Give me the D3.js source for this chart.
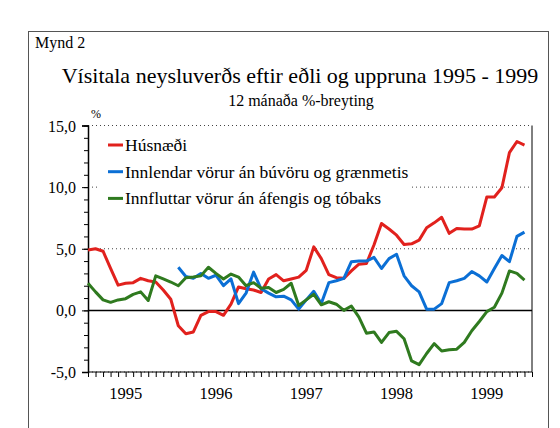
<!DOCTYPE html>
<html><head><meta charset="utf-8">
<script src="https://cdn.jsdelivr.net/npm/d3@7/dist/d3.min.js"></script>
<style>
svg, svg text { font-family: "Times New Roman", "Liberation Serif", serif; }
</style>
</head>
<body style="margin:0"><svg id="c" width="560" height="428" font-family="Times New Roman"></svg>
<script>
// Monthly index 0 = Jan 1995 ... 58 = Nov 1999
const yearLabels = ["1995","1996","1997","1998","1999"];
const yTickValues = [-5, 0, 5, 10, 15];
const seriesNames = ["Húsnæði","Innlendar vörur án búvöru og grænmetis","Innfluttar vörur án áfengis og tóbaks"];
const husnaedi = [4.9,5.0,4.8,3.4,2.05,2.2,2.25,2.6,2.4,2.3,1.65,0.9,
  -1.25,-1.9,-1.75,-0.4,-0.1,-0.1,-0.4,0.5,1.9,1.75,1.65,1.45,
  2.55,2.9,2.4,2.55,2.7,3.25,5.15,4.2,2.9,2.65,2.6,3.2,
  3.75,3.8,5.3,7.05,6.6,6.1,5.35,5.4,5.7,6.7,7.1,7.55,
  6.25,6.65,6.6,6.6,6.85,9.2,9.2,9.95,12.8,13.7,13.4];
const innlendar = [null,null,null,null,null,null,null,null,null,null,null,null,
  3.5,2.75,2.6,3.0,2.6,2.85,2.0,2.55,0.55,1.4,3.1,1.75,
  1.4,1.1,1.15,0.85,0.1,0.85,1.55,0.55,2.25,2.4,2.6,3.95,
  4.0,4.0,4.3,3.4,4.2,4.55,2.8,2.0,1.5,0.1,0.1,0.55,
  2.25,2.4,2.6,3.15,2.8,2.3,3.4,4.45,3.95,6.0,6.35];
const innfluttar = [2.2,1.5,0.85,0.65,0.85,0.95,1.3,1.5,0.8,2.8,2.55,2.3,
  2.0,2.65,2.7,2.8,3.5,3.0,2.55,2.95,2.7,2.0,2.25,1.8,
  1.85,1.45,1.7,2.2,0.4,0.85,1.3,0.45,0.7,0.5,0.0,0.35,
  -0.55,-1.85,-1.75,-2.6,-1.8,-1.7,-2.3,-4.1,-4.4,-3.5,-2.7,-3.3,
  -3.2,-3.15,-2.6,-1.65,-0.9,-0.1,0.25,1.4,3.2,3.0,2.45];
const colors = ["#e1211d","#0b6fd5","#2f7a1f"];

const FONT = "Times New Roman";
const svg = d3.select("#c");
const L = 88, R = 532, T = 125.5, B = 372;
const x = d3.scaleLinear().domain([0, 59]).range([L, R]);
const y = d3.scaleLinear().domain([-5, 15]).range([B, T]);

function txt(g, xx, yy, size, s, anchor) {
  return g.append("text").attr("font-family",FONT).attr("x",xx).attr("y",yy).attr("font-size",size)
    .attr("text-anchor",anchor||"start").style("font-family",FONT).text(s);
}

// outer frame
svg.append("rect").attr("x",28.5).attr("y",31.5).attr("width",520).attr("height",420)
  .attr("fill","none").attr("stroke","#555").attr("stroke-width",1);

txt(svg, 35, 48, 16, "Mynd 2");
txt(svg, 300, 83, 22, "Vísitala neysluverðs eftir eðli og uppruna 1995 - 1999", "middle");
txt(svg, 301, 106, 16, "12 mánaða %-breyting", "middle");
txt(svg, 91, 118, 12, "%");

// dotted gridlines
svg.append("g").selectAll("line").data([5,10,15,-5]).join("line")
  .attr("x1",L).attr("x2",R).attr("y1",d=>y(d)).attr("y2",d=>y(d))
  .attr("stroke","#444").attr("stroke-width",1).attr("stroke-dasharray","1,3");

// right border
svg.append("line").attr("x1",R).attr("x2",R).attr("y1",T).attr("y2",B).attr("stroke","#000");

// y axis
const yAxis = d3.axisLeft(y).tickValues(yTickValues).tickSize(6)
  .tickFormat(d=>d3.format(".1f")(d).replace(".",",").replace("−","-"));
const gy = svg.append("g").attr("transform",`translate(${L},0)`).call(yAxis);
gy.attr("font-family",FONT).style("font-family",FONT);
gy.select(".domain").attr("stroke","#000").attr("stroke-width",1.5);
gy.selectAll("text").attr("font-size",16).attr("font-family",FONT).style("font-family",FONT)
  .attr("fill","#000").attr("x",-12).attr("dy","0.35em");
// minor ticks
const gyMinor = svg.append("g").attr("transform",`translate(${L},0)`)
  .call(d3.axisLeft(y).tickValues(d3.range(-5,16,1)).tickSize(4).tickFormat(""));
gyMinor.select(".domain").remove();

// x axis at bottom
const gx = svg.append("g").attr("transform",`translate(0,${B})`)
  .call(d3.axisBottom(x).tickValues(d3.range(0,60)).tickSize(5).tickFormat(""));
gx.select(".domain").attr("stroke","#000").attr("d",`M${L},0H${R}`);
gx.selectAll(".tick line").attr("stroke","#000");
const gxl = svg.append("g");
yearLabels.forEach((d,i)=>txt(gxl, x(5+12*i), 399, 16.5, d, "middle"));

// zero line
svg.append("line").attr("x1",L).attr("x2",R).attr("y1",y(0)).attr("y2",y(0)).attr("stroke","#000").attr("stroke-width",1.5);

// legend background
svg.append("rect").attr("x",97).attr("y",131).attr("width",315).attr("height",76).attr("fill","#fff");

// lines
const line = d3.line().defined(d=>d!=null).x((d,i)=>x(i)).y(d=>y(d));
[husnaedi, innlendar, innfluttar].forEach((s,k)=>{
  svg.append("path").datum(s).attr("d",line).attr("fill","none")
    .attr("stroke",colors[k]).attr("stroke-width",3).attr("stroke-linejoin","round");
});

// legend
const lg = svg.append("g");
seriesNames.forEach((n,k)=>{
  const yy = 145 + k*26.7;
  lg.append("line").attr("x1",108).attr("x2",123).attr("y1",yy).attr("y2",yy)
    .attr("stroke",colors[k]).attr("stroke-width",3);
  txt(lg, 125, yy+6, 17.5, n);
});
</script></body></html>
